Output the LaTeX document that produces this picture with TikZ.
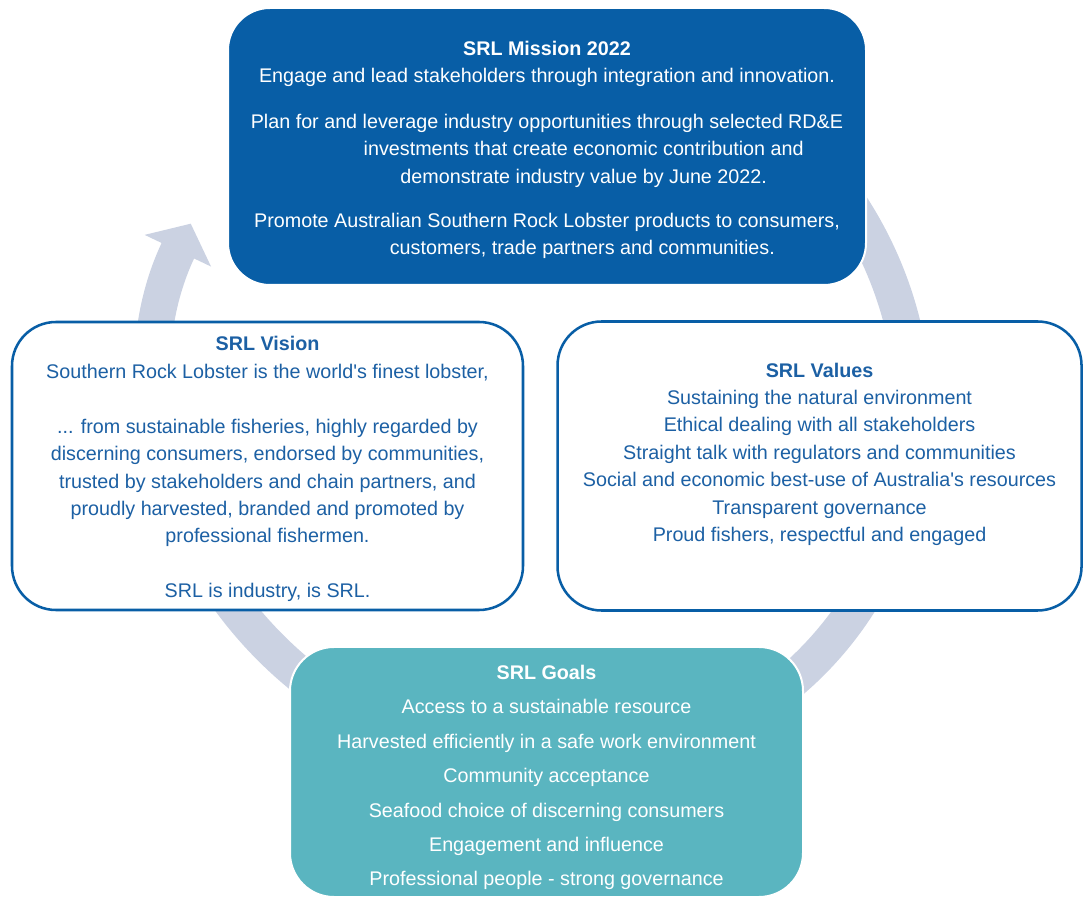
\documentclass[tikz,border=0pt]{standalone}
\usepackage{fontspec}
\setmainfont{Liberation Sans}
\usetikzlibrary{positioning,backgrounds,arrows.meta}
\definecolor{srlblue}{RGB}{8,94,166}
\definecolor{srltext}{RGB}{28,96,164}
\definecolor{srlteal}{RGB}{90,181,192}
\definecolor{srlring}{RGB}{203,210,226}
\newcommand{\srlfont}{\fontsize{14.8}{20.6}\selectfont}
\tikzstyle{mission_box} = [rectangle, rounded corners=31.5pt, draw=white, line width=1.5pt, fill=srlblue, text=white, minimum width=478.5pt, minimum height=207.75pt, align=center, font=\srlfont]
\tikzstyle{plain_box} = [rectangle, rounded corners=33pt, draw=srlblue, line width=1.9pt, fill=white, text=srltext, align=center, font=\srlfont]
\tikzstyle{goal_box} = [rectangle, rounded corners=33pt, draw=white, line width=1.5pt, fill=srlteal, text=white, minimum width=384.75pt, minimum height=187.5pt, align=center, font=\fontsize{14.8}{25.8}\selectfont]
\tikzstyle{cycle_arc} = [draw=srlring, line width=27pt, -{Triangle[length=22.5pt, width=54pt]}]

\begin{document}
\begin{tikzpicture}[x=0.75pt, y=0.75pt]
	\useasboundingbox (0,0) rectangle (1085,896);

	\node[mission_box] (box_mission) at (547,749.5) {\rule{0pt}{16pt}\textbf{SRL Mission 2022}\\
		Engage and lead stakeholders through integration and innovation.\\[13.5pt]
		Plan for and leverage industry opportunities through selected RD\&E\\
		\hspace*{55pt}investments that create economic contribution and\\
		\hspace*{55pt}demonstrate industry value by June 2022.\\[12.5pt]
		Promote Australian Southern Rock Lobster products to consumers,\\
		\hspace*{53pt}customers, trade partners and communities.};

	\node[plain_box, minimum width=383.25pt, minimum height=216pt] (box_vision) at (267.5,430) {\rule{0pt}{15.5pt}\textbf{SRL Vision}\\
		Southern Rock Lobster is the world\textquotesingle s finest lobster,\\
		~\\
		... from sustainable fisheries, highly regarded by\\
		discerning consumers, endorsed by communities,\\
		trusted by stakeholders and chain partners, and\\
		proudly harvested, branded and promoted by\\
		professional fishermen.\\
		~\\
		SRL is industry, is SRL.};

	\node[plain_box, minimum width=393pt, minimum height=216.75pt, right=24pt of box_vision] (box_values) {\textbf{SRL Values}\\
		Sustaining the natural environment\\
		Ethical dealing with all stakeholders\\
		Straight talk with regulators and communities\\
		Social and economic best-use of Australia\textquotesingle s resources\\
		Transparent governance\\
		Proud fishers, respectful and engaged\\
		~};

	\node[goal_box] (box_goals) at (546.5,124) {\rule{0pt}{19pt}\textbf{SRL Goals}\\
		Access to a sustainable resource\\
		Harvested efficiently in a safe work environment\\
		Community acceptance\\
		Seafood choice of discerning consumers\\
		Engagement and influence\\
		Professional people - strong governance};

	% circular arrow behind the boxes
	\begin{scope}[on background layer, shift={(535,501)}, rotate=-35]
		\draw[cycle_arc] (0,365) arc[start angle=90, end angle=-171, x radius=385, y radius=365];
	\end{scope}
\end{tikzpicture}
\end{document}
